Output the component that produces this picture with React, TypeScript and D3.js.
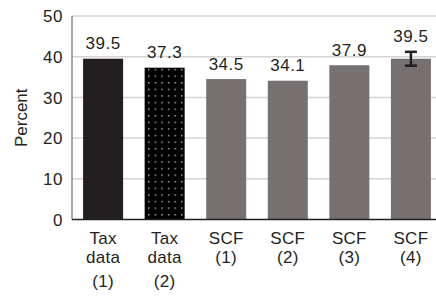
import React, { useEffect, useRef } from 'react';
import * as d3 from 'd3';

const categories = ['tax1', 'tax2', 'scf1', 'scf2', 'scf3', 'scf4'];
const labelLines = [
  ['Tax', 'data', '(1)'],
  ['Tax', 'data', '(2)'],
  ['SCF', '(1)'],
  ['SCF', '(2)'],
  ['SCF', '(3)'],
  ['SCF', '(4)'],
];
const values = [39.5, 37.3, 34.5, 34.1, 37.9, 39.5];
const errors = [0, 0, 0, 0, 0, 1.7];
const fills = ['#231f20', 'url(#dots)', '#767170', '#767170', '#767170', '#767170'];
const yTicks = [0, 10, 20, 30, 40, 50];

function App() {
  const ref = useRef<SVGSVGElement | null>(null);

  useEffect(() => {
    const svg = d3.select(ref.current);
    svg.selectAll('*').remove();

    const left = 72;
    const right = 436;
    const top = 16;
    const bottom = 219.5;
    const font = 'Liberation Sans, Arial, sans-serif';
    const fs = 17;

    const x = d3
      .scaleBand<string>()
      .domain(categories)
      .range([left, 442])
      .paddingInner(0.35)
      .paddingOuter(0.18);

    const y = d3.scaleLinear().domain([0, 50]).range([bottom, top]);

    const defs = svg.append('defs');
    const pat = defs
      .append('pattern')
      .attr('id', 'dots')
      .attr('patternUnits', 'userSpaceOnUse')
      .attr('width', 6.6)
      .attr('height', 6.6);
    pat.append('rect').attr('width', 6.6).attr('height', 6.6).attr('fill', '#000');
    pat.append('rect').attr('x', 3).attr('y', 3).attr('width', 1.2).attr('height', 1.2).attr('fill', '#fff');

    // gridlines
    svg
      .append('g')
      .selectAll('line')
      .data(yTicks.filter((t) => t > 0))
      .join('line')
      .attr('x1', left)
      .attr('x2', right)
      .attr('y1', (d) => y(d))
      .attr('y2', (d) => y(d))
      .attr('stroke', '#d4d4d4')
      .attr('stroke-width', 1.5);

    // y axis line
    svg
      .append('line')
      .attr('x1', left)
      .attr('x2', left)
      .attr('y1', y(50))
      .attr('y2', bottom)
      .attr('stroke', '#8a8a8a')
      .attr('stroke-width', 1.5);

    svg
      .append('g')
      .selectAll('text')
      .data(yTicks)
      .join('text')
      .attr('x', 63)
      .attr('y', (d) => y(d))
      .attr('dy', '0.36em')
      .attr('text-anchor', 'end')
      .attr('font-family', font)
      .attr('font-size', fs)
      .attr('letter-spacing', 0.5)
      .attr('fill', '#231f20')
      .text((d) => d);

    svg
      .append('text')
      .attr('transform', `translate(27, ${(top + bottom) / 2}) rotate(-90)`)
      .attr('text-anchor', 'middle')
      .attr('font-family', font)
      .attr('font-size', fs)
      .attr('fill', '#231f20')
      .text('Percent');

    // bars
    svg
      .append('g')
      .selectAll('rect')
      .data(values)
      .join('rect')
      .attr('x', (d, i) => x(categories[i])!)
      .attr('width', x.bandwidth())
      .attr('y', (d) => y(d))
      .attr('height', (d) => bottom - y(d))
      .attr('fill', (d, i) => fills[i]);

    // x axis line
    svg
      .append('line')
      .attr('x1', left)
      .attr('x2', right)
      .attr('y1', bottom)
      .attr('y2', bottom)
      .attr('stroke', '#231f20')
      .attr('stroke-width', 1.5);

    // error bars
    const eb = svg
      .append('g')
      .selectAll('g')
      .data(values.map((v, i) => ({ v, e: errors[i], c: categories[i] })).filter((d) => d.e > 0))
      .join('g')
      .attr('stroke', '#231f20')
      .attr('stroke-width', 2.5);
    const cx = (c: string) => x(c)! + x.bandwidth() / 2;
    eb.append('line')
      .attr('x1', (d) => cx(d.c))
      .attr('x2', (d) => cx(d.c))
      .attr('y1', (d) => y(d.v + d.e))
      .attr('y2', (d) => y(d.v - d.e));
    eb.append('line')
      .attr('x1', (d) => cx(d.c) - 6)
      .attr('x2', (d) => cx(d.c) + 6)
      .attr('y1', (d) => y(d.v + d.e))
      .attr('y2', (d) => y(d.v + d.e));
    eb.append('line')
      .attr('x1', (d) => cx(d.c) - 6)
      .attr('x2', (d) => cx(d.c) + 6)
      .attr('y1', (d) => y(d.v - d.e))
      .attr('y2', (d) => y(d.v - d.e));

    // value labels
    svg
      .append('g')
      .selectAll('text')
      .data(values)
      .join('text')
      .attr('x', (d, i) => cx(categories[i]))
      .attr('y', (d, i) => y(d + errors[i]) - 9.5)
      .attr('text-anchor', 'middle')
      .attr('font-family', font)
      .attr('font-size', fs)
      .attr('letter-spacing', 0.5)
      .attr('fill', '#231f20')
      .text((d) => d.toFixed(1));

    // category labels
    const lab = svg
      .append('g')
      .selectAll('text')
      .data(labelLines)
      .join('text')
      .attr('text-anchor', 'middle')
      .attr('font-family', font)
      .attr('font-size', fs)
      .attr('letter-spacing', 0.3)
      .attr('fill', '#231f20');
    lab
      .selectAll('tspan')
      .data((d, i) => d.map((t, j) => ({ t, j, i, n: d.length })))
      .join('tspan')
      .attr('x', (d) => cx(categories[d.i]))
      .attr('y', (d) => 244 + d.j * 19 + (d.n === 3 && d.j === 2 ? 5 : 0))
      .text((d) => d.t);
  }, []);

  return (
    <div style={{ width: 436, height: 298 }}>
      <svg ref={ref} width={436} height={298} style={{ position: 'absolute', left: 0, top: 0 }} />
    </div>
  );
}

export default App;
